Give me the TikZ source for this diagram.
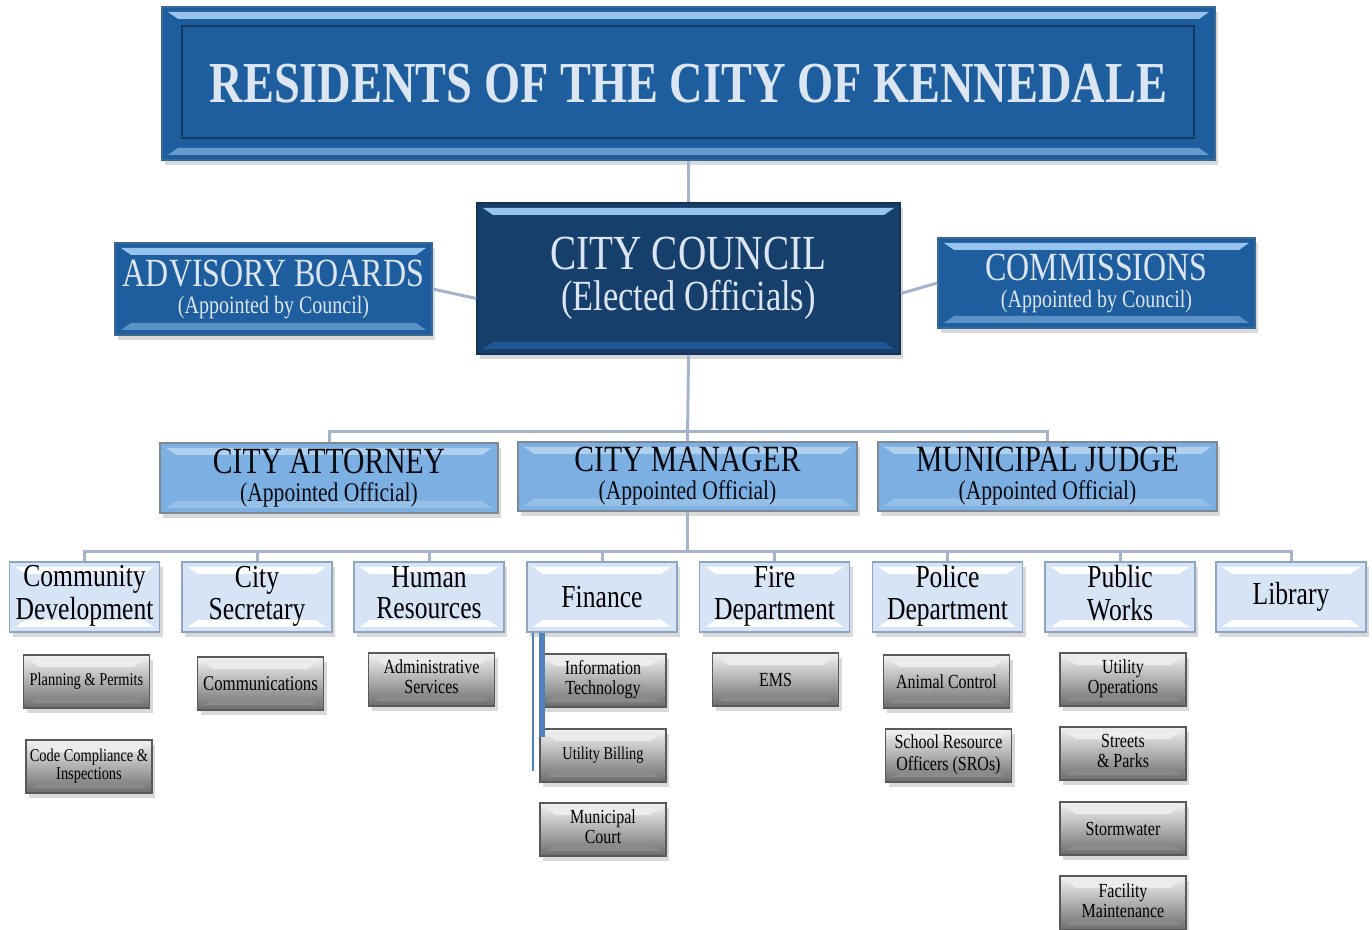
\documentclass[tikz,border=0pt]{standalone}
\usepackage{fontspec}
\setmainfont{Liberation Serif}[FakeStretch=0.8]
\usetikzlibrary{shadows,calc}

\definecolor{resblue}{RGB}{31,94,158}
\definecolor{navy}{RGB}{23,63,108}
\definecolor{midblue}{RGB}{125,176,226}
\definecolor{paleblue}{RGB}{214,228,245}
\definecolor{stripe}{RGB}{150,196,238}
\definecolor{textlight}{RGB}{220,230,242}
\definecolor{linkgray}{RGB}{165,180,204}
\definecolor{barblue}{RGB}{79,129,189}
\definecolor{edgeblue}{RGB}{141,164,194}

\newcommand{\two}[2]{\strut#1\\\strut#2}

\tikzset{
  wh/.style 2 args={minimum width=#1*0.5pt,minimum height=#2*0.5pt,inner sep=0pt,align=center},
  bevel/.style 2 args={path picture={
    \fill[#1] ($(path picture bounding box.north west)+(3pt,-2.5pt)$) -- ($(path picture bounding box.north east)+(-3pt,-2.5pt)$)
      -- ($(path picture bounding box.north east)+(-8pt,-6pt)$) -- ($(path picture bounding box.north west)+(8pt,-6pt)$) -- cycle;
    \fill[#2] ($(path picture bounding box.south west)+(3pt,2.5pt)$) -- ($(path picture bounding box.south east)+(-3pt,2.5pt)$)
      -- ($(path picture bounding box.south east)+(-8pt,6pt)$) -- ($(path picture bounding box.south west)+(8pt,6pt)$) -- cycle;}},
  shad/.style={drop shadow={shadow xshift=1.5pt,shadow yshift=-2.5pt,opacity=.3}},
  topbox/.style={fill=resblue,draw=resblue!70!gray,line width=.8pt,text=textlight,shad,bevel={stripe}{stripe!60!resblue}},
  councilbox/.style={fill=navy,draw=navy!80!black,line width=.8pt,text=textlight,shad,bevel={stripe}{resblue!80!navy}},
  sidebox/.style={fill=resblue,draw=resblue!70!gray,line width=.8pt,text=textlight,shad,bevel={stripe}{stripe!50!resblue}},
  officebox/.style={fill=midblue,draw=gray!80!midblue,line width=.8pt,text=black!85!navy,shad,bevel={midblue!60!white}{midblue!80!white}},
  deptbox/.style={fill=paleblue,draw=edgeblue,line width=.8pt,text=black,shad,bevel={white}{white},font=\fontsize{16}{14.5}\selectfont},
  subbox/.style={top color=gray!10,bottom color=gray!85!black,draw=gray!70!black,line width=.8pt,text=black,shad,
    bevel={white!85!gray}{gray!92}},
  link/.style={draw=linkgray,line width=1.5pt}
}

\begin{document}
\begin{tikzpicture}[x=0.5pt,y=-0.5pt]
\useasboundingbox (0,0) rectangle (1372,930);

% top level
\node[topbox,wh={1053}{153}] (res) at (688.5,83.5) {\fontsize{29}{30}\selectfont\bfseries RESIDENTS OF THE CITY OF KENNEDALE};
\draw[navy!90!black,line width=.8pt] ($(res.north west)+(21,20)$) rectangle ($(res.south east)+(-22,-23)$);
\node[councilbox,wh={423}{151}] (council) at (688.5,278.5) {\fontsize{24.5}{18}\selectfont CITY COUNCIL\\[4pt]\fontsize{21.5}{18}\selectfont(Elected Officials)};
\node[sidebox,wh={317}{92}] (adv) at (273.5,289) {\fontsize{20}{12.5}\selectfont ADVISORY BOARDS\\[1.5pt]\fontsize{12.5}{12.5}\selectfont(Appointed by Council)};
\node[sidebox,wh={317}{90}] (comm) at (1096.5,283) {\fontsize{20}{12.5}\selectfont COMMISSIONS\\[1.5pt]\fontsize{12.5}{12.5}\selectfont(Appointed by Council)};

% appointed officials
\node[officebox,wh={338}{70}] (atty) at (329,478) {\fontsize{18.5}{13}\selectfont CITY ATTORNEY\\[2pt]\fontsize{13.5}{13}\selectfont(Appointed Official)};
\node[officebox,wh={339}{69}] (mgr) at (687.5,476.5) {\fontsize{18.5}{13}\selectfont CITY MANAGER\\[2pt]\fontsize{13.5}{13}\selectfont(Appointed Official)};
\node[officebox,wh={339}{69}] (judge) at (1047.5,476.5) {\fontsize{18.5}{13}\selectfont MUNICIPAL JUDGE\\[2pt]\fontsize{13.5}{13}\selectfont(Appointed Official)};

% departments
\node[deptbox,wh={150}{70}] (dev) at (84.5,597) {\two{Community}{Development}};
\node[deptbox,wh={150}{70}] (sec) at (257,597) {\two{City}{Secretary}};
\node[deptbox,wh={150}{70}] (hr) at (429,597) {\two{Human}{Resources}};
\node[deptbox,wh={150}{70}] (fin) at (602,597) {Finance};
\node[deptbox,wh={150}{70}] (fire) at (774.5,597) {\two{Fire}{Department}};
\node[deptbox,wh={150}{70}] (police) at (947.5,597) {\two{Police}{Department}};
\node[deptbox,wh={150}{70}] (pw) at (1120,597) {\two{Public}{Works}};
\node[deptbox,wh={150}{70}] (lib) at (1291,597) {Library};

% divisions
\node[subbox,wh={126}{53},font=\fontsize{9}{9}\selectfont] (plan) at (86.5,681.5) {Planning \& Permits};
\node[subbox,wh={126}{53},font=\fontsize{9}{9}\selectfont] (code) at (89,766.5) {\two{Code Compliance \&}{Inspections}};
\node[subbox,wh={126}{53},font=\fontsize{10.5}{10}\selectfont] (comms) at (260.5,683.5) {Communications};
\node[subbox,wh={126}{53},font=\fontsize{10}{10}\selectfont] (admin) at (431.5,679.5) {\two{Administrative}{Services}};
\node[subbox,wh={126}{53},font=\fontsize{10}{10}\selectfont] (it) at (603,680.5) {\two{Information}{Technology}};
\node[subbox,wh={126}{53},font=\fontsize{9}{10}\selectfont] (ub) at (603,755.5) {Utility Billing};
\node[subbox,wh={126}{53},font=\fontsize{10}{10}\selectfont] (court) at (603,829.5) {\two{Municipal}{Court}};
\node[subbox,wh={126}{53},font=\fontsize{10}{10}\selectfont] (ems) at (775.5,679.5) {EMS};
\node[subbox,wh={126}{53},font=\fontsize{10}{10}\selectfont] (animal) at (946.5,681.5) {Animal Control};
\node[subbox,wh={126}{53},font=\fontsize{10}{10}\selectfont] (sro) at (948.5,755.5) {\two{School Resource}{Officers (SROs)}};
\node[subbox,wh={126}{53},font=\fontsize{10}{10}\selectfont] (uops) at (1123,679.5) {\two{Utility}{Operations}};
\node[subbox,wh={126}{53},font=\fontsize{10}{10}\selectfont] (streets) at (1123,753.5) {\two{Streets}{\& Parks}};
\node[subbox,wh={126}{53},font=\fontsize{10}{10}\selectfont] (storm) at (1123,828.5) {Stormwater};
\node[subbox,wh={126}{54},font=\fontsize{10}{10}\selectfont] (facil) at (1123,903) {\two{Facility}{Maintenance}};

% connectors
\draw[link] (res.south) -- (council.north);
\draw[link] (adv.east) -- ([yshift=-10pt]council.west);
\draw[link] (comm.west) -- ([yshift=-7.5pt]council.east);
\draw[link] (council.south) -- (mgr.north);
\draw[link] (atty.north) -- ++(0,-11) -| (judge.north);
\draw[link] (mgr.south) -- ++(0,41) coordinate (bus);
\draw[link] (dev.north) -- ++(0,-10) -| (lib.north);
\foreach \d in {sec,hr,fin,fire,police,pw}
  \draw[link] (\d.north) -- ++(0,-10);
\draw[barblue,line width=1pt] ([xshift=3.5pt]fin.south west) -- ++(0,138);
\draw[barblue,line width=3pt] ([xshift=8pt]fin.south west) -- ++(0,104);
\end{tikzpicture}
\end{document}
